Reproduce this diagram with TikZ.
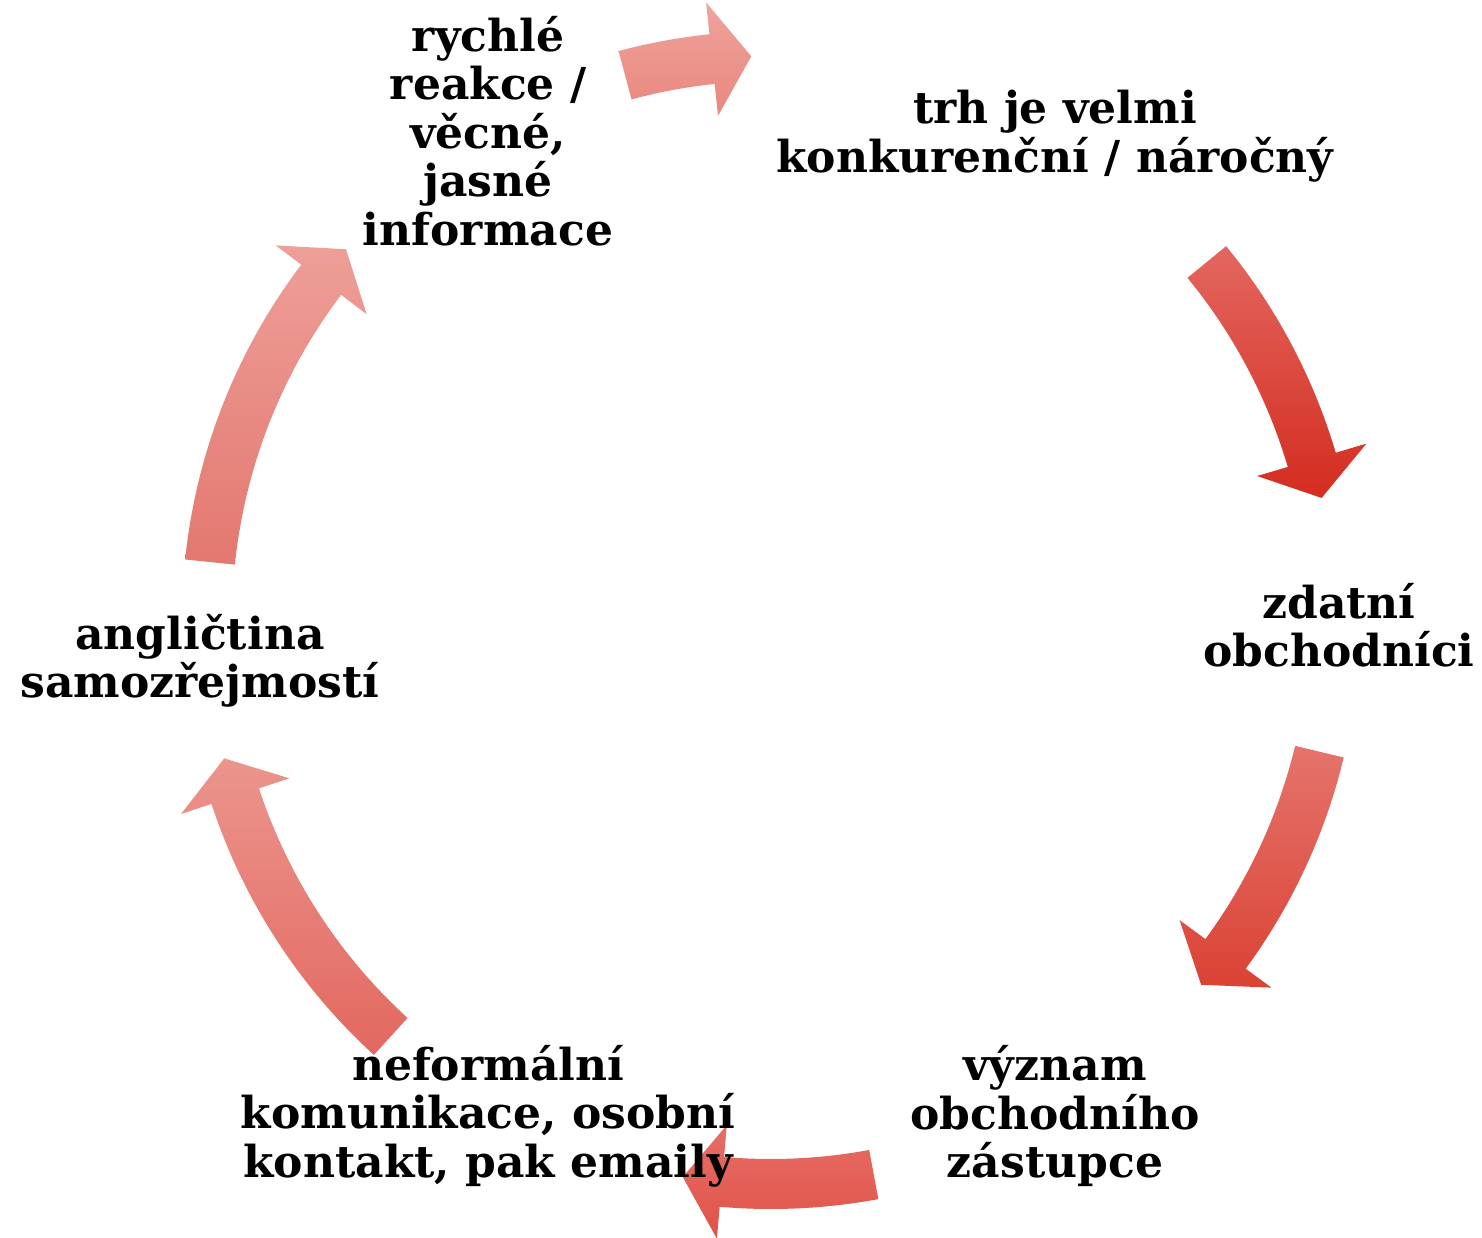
\documentclass[tikz,border=0pt]{standalone}
\usepackage{fontspec}
\setmainfont{DejaVu Serif}
\definecolor{aOneT}{HTML}{EFA39C}\definecolor{aOneB}{HTML}{E9877F}
\definecolor{aTwoT}{HTML}{E3675F}\definecolor{aTwoM}{HTML}{DD3627}\definecolor{aTwoB}{HTML}{D42C20}
\definecolor{aThrT}{HTML}{E5746C}\definecolor{aThrM}{HTML}{E04C40}\definecolor{aThrB}{HTML}{DA4234}
\definecolor{aFouT}{HTML}{E66E66}\definecolor{aFouB}{HTML}{E05248}
\definecolor{aFivT}{HTML}{EB958D}\definecolor{aFivB}{HTML}{E26860}
\definecolor{aSixT}{HTML}{ED9F98}\definecolor{aSixB}{HTML}{E37870}
\newcommand\cyclearrow[3]{%
  \shade[#3] ([shift={(cc)}]#1:589) arc[start angle=#1,end angle=#2+4,radius=589]
    -- ([shift={(cc)}]#2+4:621) -- ([shift={(cc)}]#2:564) -- ([shift={(cc)}]#2+4:507)
    -- ([shift={(cc)}]#2+4:539) arc[start angle=#2+4,end angle=#1,radius=539] -- cycle;}
\tikzset{lbl/.style={align=center,font=\fontsize{44}{48.5}\selectfont\bfseries,inner sep=0pt,text=black}}
\begin{document}
\begin{tikzpicture}[x=1pt,y=1pt]
\useasboundingbox (0,0) rectangle (1482,-1238);
\coordinate (cc) at (771,-620);
\cyclearrow{105}{92}{top color=aOneT,bottom color=aOneB}
\cyclearrow{39.4}{12.5}{top color=aTwoT,middle color=aTwoM,bottom color=aTwoB}
\cyclearrow{-13.5}{-40.3}{top color=aThrT,middle color=aThrM,bottom color=aThrB}
\cyclearrow{-79.5}{-99}{top color=aFouT,bottom color=aFouB}
\cyclearrow{-132.4}{-165.8}{top color=aFivT,bottom color=aFivB}
\cyclearrow{174.1}{138.9}{top color=aSixT,bottom color=aSixB}
\node[lbl] (t1) at (1055,-136) {trh je velmi\\konkurenční / náročný};
\node[lbl] (t2) at (1339,-625) {zdatní\\obchodníci};
\node[lbl] (t3) at (1055,-1116) {význam\\obchodního\\zástupce};
\node[lbl] (t4) at (488,-1116) {neformální\\komunikace, osobní\\kontakt, pak emaily};
\node[lbl] (t5) at (200,-661) {angličtina\\samozřejmostí};
\node[lbl] (t6) at (488,-131) {rychlé\\reakce /\\věcné,\\jasné\\informace};
\end{tikzpicture}
\end{document}
